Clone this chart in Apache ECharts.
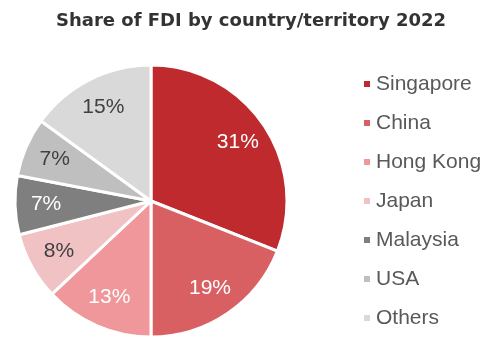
<!DOCTYPE html>
<html>
<head>
<meta charset="utf-8">
<script src="https://cdn.jsdelivr.net/npm/echarts@6/dist/echarts.min.js"></script>
<style>
  html, body { margin: 0; padding: 0; background: #fff; }
  #chart { width: 502px; height: 342px; }
</style>
</head>
<body>
<div id="chart"></div>
<script>
// FDI shares by source country/territory, 2022 (percent)
const categories = ['Singapore', 'China', 'Hong Kong', 'Japan', 'Malaysia', 'USA', 'Others'];
const shares = [31, 19, 13, 8, 7, 7, 15];
const colors = ['#BE2A2E', '#D96062', '#EF979A', '#F0C2C3', '#7F7F7F', '#BFBFBF', '#D9D9D9'];
const labelColors = ['#FFFFFF', '#FFFFFF', '#FFFFFF', '#404040', '#FFFFFF', '#404040', '#404040'];

const center = [151, 201];
const radius = 136;
const bodyFont = "'Liberation Sans', Arial, sans-serif";

const pieData = categories.map((name, i) => ({
  name: name,
  value: shares[i],
  itemStyle: { color: colors[i] }
}));

// Transparent ring used only to place the percentage labels further out
const labelData = categories.map((name, i) => ({
  name: name,
  value: shares[i],
  itemStyle: { color: 'transparent', borderWidth: 0 },
  label: { color: labelColors[i] }
}));

const chart = echarts.init(document.getElementById('chart'), null, { renderer: 'canvas' });
chart.setOption({
  animation: false,
  title: {
    text: 'Share of FDI by country/territory 2022',
    left: 'center',
    top: 7,
    textStyle: {
      fontFamily: "'DejaVu Sans', sans-serif",
      fontWeight: 'bold',
      fontSize: 18,
      color: '#333333'
    }
  },
  legend: {
    orient: 'vertical',
    left: 357,
    top: 67,
    icon: 'rect',
    itemWidth: 8,
    itemHeight: 8,
    itemGap: 15,
    data: categories,
    textStyle: {
      fontFamily: bodyFont,
      fontSize: 21,
      lineHeight: 24,
      color: '#595959'
    }
  },
  series: [
    {
      type: 'pie',
      center: center,
      radius: [0, radius],
      startAngle: 90,
      clockwise: true,
      silent: true,
      label: { show: false },
      labelLine: { show: false },
      itemStyle: { borderColor: '#FFFFFF', borderWidth: 3 },
      data: pieData
    },
    {
      type: 'pie',
      center: center,
      radius: [radius * 0.5, radius],
      startAngle: 90,
      clockwise: true,
      silent: true,
      legendHoverLink: false,
      label: {
        show: true,
        position: 'inside',
        formatter: '{c}%',
        fontFamily: bodyFont,
        fontSize: 21
      },
      labelLine: { show: false },
      data: labelData
    }
  ]
});
</script>
</body>
</html>
